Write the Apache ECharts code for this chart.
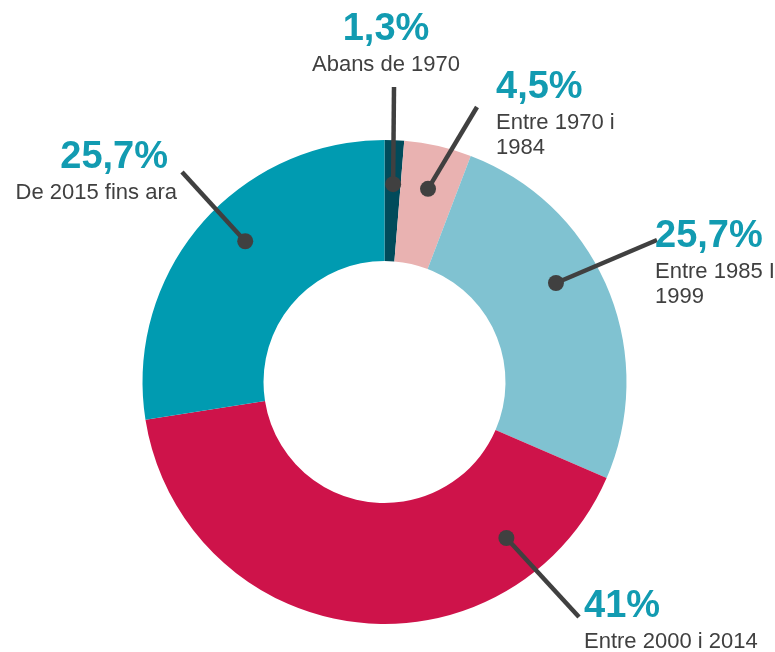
<!DOCTYPE html>
<html>
<head>
<meta charset="utf-8">
<script src="https://cdn.jsdelivr.net/npm/echarts@6/dist/echarts.min.js"></script>
<style>
html,body{margin:0;padding:0;background:#fff;}
#chart{width:775px;height:652px;}
</style>
</head>
<body>
<div id="chart"></div>
<script>
// ---- data ----
var categories = ['Abans de 1970', 'Entre 1970 i\n1984', 'Entre 1985 I\n1999', 'Entre 2000 i 2014', 'De 2015 fins ara'];
var values = [1.3, 4.5, 25.7, 41, 27.5];
var pctLabels = ['1,3%', '4,5%', '25,7%', '41%', '25,7%'];

// ---- styles / layout ----
var colors = ['#014b5b', '#e9b2b1', '#80c2d1', '#ce134a', '#009bb1'];
var CX = 384.5, CY = 382, R_IN = 121, R_OUT = 242;
var anchorR = 198;
var anchorAngles = [2.5, 12.7, 60, 142, 315.3];           // leader start (deg clockwise from top)
var lineEnds = [[394, 87], [477, 107], [657, 240], [579, 617], [182, 172]];
var labelPos = [
  {x: 386, y: 8, align: 'center', pStyle: 'p'},
  {x: 496, y: 66, align: 'left', pStyle: 'p'},
  {x: 655, y: 215, align: 'left', pStyle: 'p'},
  {x: 584, y: 585, align: 'left', pStyle: 'p'},
  {x: 177, y: 136, align: 'right', pStyle: 'pr'}
];

function anchorXY(i) {
  var a = anchorAngles[i] * Math.PI / 180;
  return [CX + anchorR * Math.sin(a), CY - anchorR * Math.cos(a)];
}

var FONT = 'Liberation Sans, Arial, sans-serif';
var pieData = categories.map(function (c, i) {
  return {name: c, value: values[i], itemStyle: {color: colors[i]}};
});

var chart = echarts.init(document.getElementById('chart'), null, {renderer: 'canvas'});
var option = {
  backgroundColor: '#ffffff',
  animation: false,
  polar: {center: [CX, CY], radius: R_OUT},
  angleAxis: {type: 'value', min: 0, max: 360, startAngle: 90, clockwise: true, show: false,
    axisLine: {show: false}, axisTick: {show: false}, axisLabel: {show: false}, splitLine: {show: false}},
  radiusAxis: {type: 'value', min: 0, max: R_OUT, show: false,
    axisLine: {show: false}, axisTick: {show: false}, axisLabel: {show: false}, splitLine: {show: false}},
  series: [
    {
      // coloured ring
      type: 'pie',
      center: [CX, CY],
      radius: [R_IN, R_OUT],
      startAngle: 90,
      clockwise: true,
      silent: true,
      z: 1,
      data: pieData,
      label: {show: false},
      labelLine: {show: false}
    },
    {
      // transparent overlay carrying labels and leader lines on top
      type: 'pie',
      center: [CX, CY],
      radius: [R_IN, R_OUT],
      startAngle: 90,
      clockwise: true,
      avoidLabelOverlap: false,
      silent: true,
      z: 3,
      data: categories.map(function (c, i) {
        return {name: c, value: values[i], itemStyle: {color: 'transparent', borderWidth: 0}};
      }),
      label: {
        show: true,
        position: 'outside',
        formatter: function (p) {
          var i = p.dataIndex;
          var lines = categories[i].split('\n');
          return '{' + labelPos[i].pStyle + '|' + pctLabels[i] + '}\n' +
            lines.map(function (l) { return '{c|' + l + '}'; }).join('\n');
        },
        rich: {
          p: {fontFamily: FONT, fontWeight: 'bold', fontSize: 38, lineHeight: 44, color: '#129bb1'},
          pr: {fontFamily: FONT, fontWeight: 'bold', fontSize: 38, lineHeight: 44, color: '#129bb1', padding: [0, 9, 0, 0]},
          c: {fontFamily: FONT, fontSize: 22, lineHeight: 25, color: '#404040'}
        }
      },
      labelLine: {show: true, smooth: false, lineStyle: {color: '#404040', width: 4.5, opacity: 1}},
      labelLayout: function (params) {
        var i = params.dataIndex;
        var lp = labelPos[i];
        var s = anchorXY(i);
        var e = lineEnds[i];
        return {
          x: lp.x, y: lp.y, align: lp.align, verticalAlign: 'top',
          labelLinePoints: [s, e, e]
        };
      }
    },
    {
      type: 'scatter',
      coordinateSystem: 'polar',
      symbol: 'circle',
      symbolSize: 16,
      z: 5,
      silent: true,
      itemStyle: {color: '#404040', opacity: 1},
      data: anchorAngles.map(function (a) { return [anchorR, a]; })
    }
  ]
};
chart.setOption(option);
</script>
</body>
</html>
